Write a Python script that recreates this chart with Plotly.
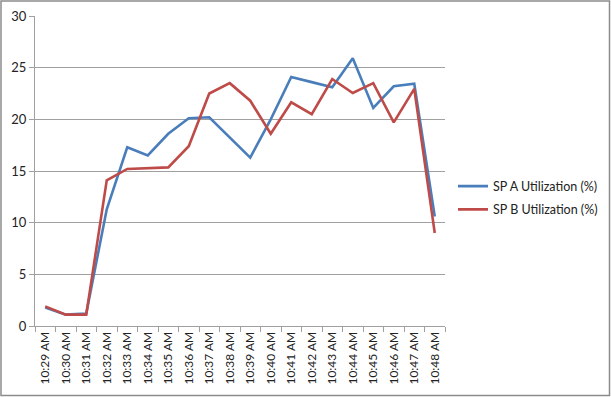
import plotly.graph_objects as go

times = ["10:29 AM", "10:30 AM", "10:31 AM", "10:32 AM", "10:33 AM", "10:34 AM",
         "10:35 AM", "10:36 AM", "10:37 AM", "10:38 AM", "10:39 AM", "10:40 AM",
         "10:41 AM", "10:42 AM", "10:43 AM", "10:44 AM", "10:45 AM", "10:46 AM",
         "10:47 AM", "10:48 AM"]
sp_a = [1.8, 1.1, 1.2, 11.3, 17.3, 16.5, 18.6, 20.1, 20.2, 18.2, 16.3, 20.0,
        24.1, 23.6, 23.1, 25.9, 21.1, 23.2, 23.45, 10.6]
sp_b = [1.9, 1.1, 1.1, 14.1, 15.2, 15.3, 15.35, 17.4, 22.5, 23.5, 21.8, 18.6,
        21.65, 20.5, 23.9, 22.55, 23.5, 19.7, 22.95, 9.0]
y_ticks = [0, 5, 10, 15, 20, 25, 30]

W, H = 611, 397
L, R, T, B = 35, 166, 16, 71
pw, ph = W - L - R, H - T - B

FONT = "Lato, Calibri, sans-serif"

fig = go.Figure()
fig.add_trace(go.Scatter(x=times, y=sp_a, mode="lines", name="SP A Utilization (%)",
                         line=dict(color="#4a7ebb", width=2.6), legendgroup="a"))
fig.add_trace(go.Scatter(x=times, y=sp_b, mode="lines", name="SP B Utilization (%)",
                         line=dict(color="#be4b48", width=2.6), legendgroup="b"))

fig.update_layout(
    width=W, height=H,
    margin=dict(l=L, r=R, t=T, b=B, pad=0),
    paper_bgcolor="white", plot_bgcolor="white",
    font=dict(family=FONT, size=12, color="#222222"),
    showlegend=True,
    legend=dict(xref="container", yref="container",
                x=453 / W, y=(H - 198) / H, xanchor="left", yanchor="middle",
                font=dict(family=FONT, size=12.5, color="#222222"),
                tracegroupgap=4, bgcolor="rgba(0,0,0,0)"),
    xaxis=dict(type="category", tickangle=-90, showgrid=False, automargin=False,
               showline=True, linecolor="#a0a0a0", linewidth=1,
               ticks="outside", tickson="boundaries", ticklen=5, tickcolor="#a0a0a0",
               tickfont=dict(family=FONT, size=12, color="#222222"),
               range=[-0.5, len(times) - 0.5], fixedrange=True),
    yaxis=dict(range=[0, 30], tickvals=y_ticks, showgrid=True, gridcolor="#a0a0a0",
               gridwidth=1, showline=True, linecolor="#a0a0a0", linewidth=1,
               automargin=False, fixedrange=True,
               ticks="outside", ticklen=5, tickcolor="#a0a0a0", zeroline=False,
               tickfont=dict(family=FONT, size=13, color="#222222")),
)

# outer chart border
fig.add_shape(type="rect", xref="paper", yref="paper",
              x0=(1 - L) / pw, x1=(W - 1.5 - L) / pw,
              y0=-(B - 1.5) / ph,
              y1=1 + (T - 1) / ph,
              line=dict(color="#8c8c8c", width=1.5), layer="below")

fig.write_html("out.html", config={"displayModeBar": False},
               post_script="document.body.style.margin='0';document.body.style.overflow='hidden';")
